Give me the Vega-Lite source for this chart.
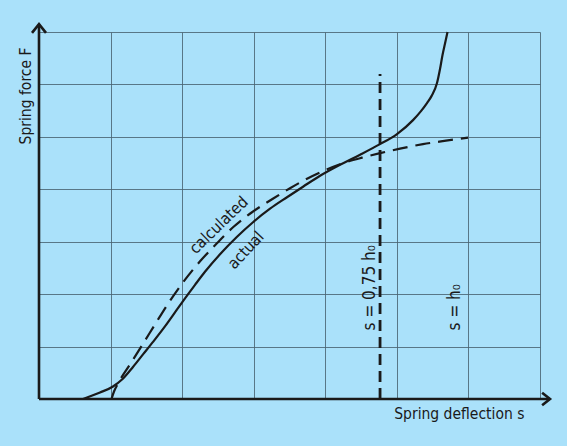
{
  "$schema": "https://vega.github.io/schema/vega-lite/v6.json",
  "width": 501,
  "height": 367,
  "autosize": {"type": "none"},
  "padding": {"left": 39, "top": 32, "right": 27, "bottom": 47},
  "background": "#aae1fa",
  "data": {"values": [{}]},
  "config": {
    "view": {"stroke": null},
    "font": "Liberation Sans Narrow, DejaVu Sans Condensed, Liberation Sans, sans-serif"
  },
  "datasets": {
    "curves": [
      {"series": "actual", "x": 0.615, "y": 0},
      {"series": "actual", "x": 0.852, "y": 0.124},
      {"series": "actual", "x": 1.034, "y": 0.239},
      {"series": "actual", "x": 1.16, "y": 0.372},
      {"series": "actual", "x": 1.313, "y": 0.611},
      {"series": "actual", "x": 1.453, "y": 0.85},
      {"series": "actual", "x": 1.593, "y": 1.089},
      {"series": "actual", "x": 1.76, "y": 1.385},
      {"series": "actual", "x": 1.9, "y": 1.652},
      {"series": "actual", "x": 2.04, "y": 1.919},
      {"series": "actual", "x": 2.18, "y": 2.177},
      {"series": "actual", "x": 2.319, "y": 2.426},
      {"series": "actual", "x": 2.529, "y": 2.76},
      {"series": "actual", "x": 2.767, "y": 3.094},
      {"series": "actual", "x": 2.99, "y": 3.371},
      {"series": "actual", "x": 3.228, "y": 3.629},
      {"series": "actual", "x": 3.465, "y": 3.848},
      {"series": "actual", "x": 3.689, "y": 4.049},
      {"series": "actual", "x": 3.927, "y": 4.259},
      {"series": "actual", "x": 4.206, "y": 4.469},
      {"series": "actual", "x": 4.486, "y": 4.66},
      {"series": "actual", "x": 4.765, "y": 4.861},
      {"series": "actual", "x": 5.002, "y": 5.052},
      {"series": "actual", "x": 5.226, "y": 5.319},
      {"series": "actual", "x": 5.337, "y": 5.491},
      {"series": "actual", "x": 5.421, "y": 5.644},
      {"series": "actual", "x": 5.484, "y": 5.777},
      {"series": "actual", "x": 5.561, "y": 6.026},
      {"series": "actual", "x": 5.603, "y": 6.293},
      {"series": "actual", "x": 5.638, "y": 6.56},
      {"series": "actual", "x": 5.673, "y": 6.78},
      {"series": "actual", "x": 5.708, "y": 7.0},
      {"series": "calculated", "x": 1.013, "y": 0},
      {"series": "calculated", "x": 1.048, "y": 0.143},
      {"series": "calculated", "x": 1.104, "y": 0.296},
      {"series": "calculated", "x": 1.271, "y": 0.659},
      {"series": "calculated", "x": 1.439, "y": 1.022},
      {"series": "calculated", "x": 1.621, "y": 1.423},
      {"series": "calculated", "x": 1.788, "y": 1.786},
      {"series": "calculated", "x": 2.012, "y": 2.225},
      {"series": "calculated", "x": 2.25, "y": 2.626},
      {"series": "calculated", "x": 2.473, "y": 2.951},
      {"series": "calculated", "x": 2.711, "y": 3.275},
      {"series": "calculated", "x": 2.976, "y": 3.562},
      {"series": "calculated", "x": 3.256, "y": 3.81},
      {"series": "calculated", "x": 3.507, "y": 4.02},
      {"series": "calculated", "x": 3.745, "y": 4.202},
      {"series": "calculated", "x": 3.996, "y": 4.364},
      {"series": "calculated", "x": 4.248, "y": 4.498},
      {"series": "calculated", "x": 4.513, "y": 4.603},
      {"series": "calculated", "x": 4.765, "y": 4.689},
      {"series": "calculated", "x": 5.044, "y": 4.775},
      {"series": "calculated", "x": 5.365, "y": 4.861},
      {"series": "calculated", "x": 5.687, "y": 4.927},
      {"series": "calculated", "x": 5.994, "y": 4.985}
    ]
  },
  "layer": [
    {
      "data": {"name": "curves"},
      "transform": [{"filter": "datum.series === 'actual'"}],
      "mark": {"type": "line", "color": "#1a1a1a", "strokeWidth": 2.2, "interpolate": "monotone"},
      "encoding": {
        "x": {
          "field": "x", "type": "quantitative",
          "scale": {"domain": [0, 7], "nice": false, "zero": false},
          "axis": {
            "title": "Spring deflection s",
            "titleX": 485, "titleY": 19, "titleAlign": "right", "titleBaseline": "alphabetic",
            "titleFontSize": 15.5, "titleFontWeight": "normal", "titleColor": "#1a1a1a",
            "grid": true, "gridColor": "#4a6472", "gridWidth": 1, "gridOpacity": 0.85,
            "domain": false, "ticks": false, "labels": false,
            "values": [0, 1, 2, 3, 4, 5, 6, 7]
          }
        },
        "y": {
          "field": "y", "type": "quantitative",
          "scale": {"domain": [0, 7], "nice": false, "zero": false},
          "axis": {
            "title": "Spring force F",
            "titleX": -14, "titleY": 15, "titleAngle": 270, "titleAlign": "right", "titleBaseline": "middle",
            "titleFontSize": 15.5, "titleFontWeight": "normal", "titleColor": "#1a1a1a",
            "grid": true, "gridColor": "#4a6472", "gridWidth": 1, "gridOpacity": 0.85,
            "domain": false, "ticks": false, "labels": false,
            "values": [0, 1, 2, 3, 4, 5, 6, 7]
          }
        }
      }
    },
    {
      "data": {"name": "curves"},
      "transform": [{"filter": "datum.series === 'calculated'"}],
      "mark": {"type": "line", "color": "#1a1a1a", "strokeWidth": 2.2, "strokeDash": [15, 8], "interpolate": "monotone"},
      "encoding": {
        "x": {"field": "x", "type": "quantitative"},
        "y": {"field": "y", "type": "quantitative"}
      }
    },
    {
      "mark": {"type": "rule", "color": "#1a1a1a", "strokeWidth": 2.8, "strokeDash": [11, 6]},
      "encoding": {
        "x": {"datum": 4.765, "type": "quantitative"},
        "y": {"datum": 0, "type": "quantitative"},
        "y2": {"datum": 6.2}
      }
    },
    {
      "mark": {"type": "rule", "color": "#1a1a1a", "strokeWidth": 2.6},
      "encoding": {
        "x": {"datum": 0, "type": "quantitative"},
        "y": {"datum": 0, "type": "quantitative"},
        "y2": {"datum": 7.15}
      }
    },
    {
      "mark": {"type": "rule", "color": "#1a1a1a", "strokeWidth": 2.6},
      "encoding": {
        "x": {"datum": 0, "type": "quantitative"},
        "x2": {"datum": 7.14},
        "y": {"datum": 0, "type": "quantitative"}
      }
    },
    {
      "mark": {"type": "point", "shape": "M-1,1.25L0,0L1,1.25", "size": 196, "filled": false, "stroke": "#1a1a1a", "strokeWidth": 2.6, "opacity": 1},
      "encoding": {
        "x": {"datum": 0, "type": "quantitative"},
        "y": {"datum": 7.15, "type": "quantitative"}
      }
    },
    {
      "mark": {"type": "point", "shape": "M-1.25,-1L0,0L-1.25,1", "size": 160, "filled": false, "stroke": "#1a1a1a", "strokeWidth": 2.6, "opacity": 1},
      "encoding": {
        "x": {"datum": 7.14, "type": "quantitative"},
        "y": {"datum": 0, "type": "quantitative"}
      }
    },
    {
      "mark": {"type": "text", "text": "calculated", "angle": 316, "fontSize": 16, "color": "#1a1a1a", "align": "center", "baseline": "middle"},
      "encoding": {
        "x": {"datum": 2.513, "type": "quantitative"},
        "y": {"datum": 3.314, "type": "quantitative"}
      }
    },
    {
      "mark": {"type": "text", "text": "actual", "angle": 313, "fontSize": 16, "color": "#1a1a1a", "align": "center", "baseline": "middle"},
      "encoding": {
        "x": {"datum": 2.892, "type": "quantitative"},
        "y": {"datum": 2.836, "type": "quantitative"}
      }
    },
    {
      "mark": {"type": "text", "text": "s = 0,75 h\u2080", "angle": 270, "fontSize": 17, "color": "#1a1a1a", "align": "left", "baseline": "middle"},
      "encoding": {
        "x": {"datum": 4.625, "type": "quantitative"},
        "y": {"datum": 1.308, "type": "quantitative"}
      }
    },
    {
      "mark": {"type": "text", "text": "s = h\u2080", "angle": 270, "fontSize": 17, "color": "#1a1a1a", "align": "left", "baseline": "middle"},
      "encoding": {
        "x": {"datum": 5.813, "type": "quantitative"},
        "y": {"datum": 1.308, "type": "quantitative"}
      }
    }
  ]
}
